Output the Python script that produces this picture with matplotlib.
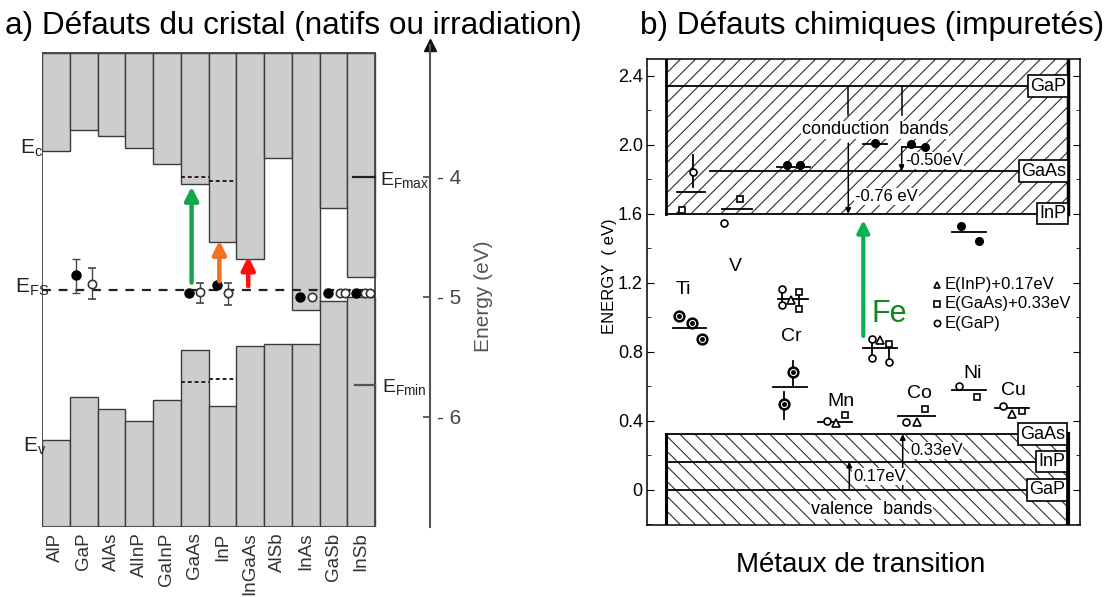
import matplotlib
matplotlib.use('Agg')
import matplotlib.pyplot as plt
from matplotlib.patches import Rectangle
from matplotlib.collections import LineCollection
import numpy as np

plt.rcParams['font.family'] = ['Liberation Sans', 'DejaVu Sans']
plt.rcParams['mathtext.fontset'] = 'custom'
plt.rcParams['mathtext.rm'] = 'Liberation Sans'

W, H = 1104, 597

# ---------------- panel a : band edges (eV) ----------------
compounds = ['AlP', 'GaP', 'AlAs', 'AlInP', 'GaInP', 'GaAs', 'InP', 'InGaAs',
             'AlSb', 'InAs', 'GaSb', 'InSb']
e_c = [-3.78, -3.61, -3.66, -3.76, -3.89, -4.06, -4.54, -4.68, -3.84, -5.11, -4.26, -4.83]
e_v = [-6.19, -5.83, -5.93, -6.03, -5.86, -5.44, -5.91, -5.41, -5.39, -5.39, -5.03, -5.00]
e_fs = -4.94
e_fmax = -4.0
e_fmin = -5.73

# measured pinning levels (x in column units)
pin_x = [1.22, 5.30, 6.31, 9.30, 10.32, 11.30]
pin_y = [-4.82, -4.97, -4.90, -5.00, -4.97, -4.97]
pin_lo = [-4.97, np.nan, np.nan, np.nan, np.nan, np.nan]
pin_hi = [-4.68, np.nan, np.nan, np.nan, np.nan, np.nan]
open_x = [1.81, 5.69, 6.71, 9.72, 10.74, 10.92, 11.64, 11.82]
open_y = [-4.89, -4.96, -4.97, -5.00, -4.97, -4.97, -4.97, -4.97]
open_lo = [-5.02, -5.05, -5.07, np.nan, np.nan, np.nan, np.nan, np.nan]
open_hi = [-4.76, -4.88, -4.88, np.nan, np.nan, np.nan, np.nan, np.nan]

# coloured arrows (x, start, end, colour)
arr_x = [5.39, 6.39, 7.43]
arr_y0 = [-4.88, -4.87, -4.91]
arr_y1 = [-4.08, -4.53, -4.66]
arr_col = ['#12a54c', '#f37021', '#ff1010']

# ---------------- panel b : transition metals ----------------
top_b, bot_b = 2.497, -0.203
cb_gap = [2.34, 1.848, 1.60]      # GaP, GaAs, InP conduction band edges
cb_names = ['GaP', 'GaAs', 'InP']
vb_lev = [0.324, 0.164, 0.0]      # GaAs, InP, GaP valence band edges
vb_names = ['GaAs', 'InP', 'GaP']

lev_x0 = [29.7, 74.7, 129.7, 216, 254.7, 304.7, 26.3, 131, 126, 171, 216.3, 250.7, 304.7, 348]
lev_x1 = [58, 104.7, 163, 239.7, 281.3, 339, 59, 161, 159.7, 204.7, 249.7, 288, 339, 382.3]
lev_y = [1.728, 1.628, 1.87, 2.005, 1.989, 1.497, 0.937, 1.107, 0.599, 0.396, 0.825, 0.43, 0.579, 0.477]

circ_x = [45.7, 77, 135.3, 135.3, 179.7, 224.7, 224.7, 242, 259, 312.3, 356.3]
circ_y = [1.844, 1.549, 1.163, 1.072, 0.40, 0.873, 0.763, 0.743, 0.392, 0.604, 0.489]
sq_x = [34.7, 93, 152.3, 152.3, 198, 242, 278, 330.3, 374.7]
sq_y = [1.622, 1.684, 1.145, 1.047, 0.435, 0.846, 0.469, 0.537, 0.458]
tri_x = [144, 189, 233, 269.7, 365.3]
tri_y = [1.10, 0.39, 0.866, 0.392, 0.44]
dot_x = [139.7, 153, 228, 263.7, 278, 313.7, 332.3]
dot_y = [1.881, 1.881, 2.012, 2.005, 1.99, 1.532, 1.445]
bull_x = [32.3, 44.7, 54.7, 145.7, 137.3]
bull_y = [1.008, 0.969, 0.875, 0.682, 0.497]
stem_x = [45.7, 135.3, 152.3, 145.7, 137.3, 224.7, 242]
stem_y0 = [1.757, 1.072, 1.047, 0.61, 0.41, 0.763, 0.743]
stem_y1 = [1.94, 1.163, 1.145, 0.75, 0.57, 0.873, 0.846]

metals = ['Ti', 'V', 'Cr', 'Mn', 'Co', 'Ni', 'Cu']
metal_x = [36, 88, 144.7, 193.7, 272, 325.7, 366.3]
metal_y = [1.163, 1.294, 0.888, 0.512, 0.56, 0.676, 0.575]


def px_axes(x0, y0, x1, y1):
    return fig.add_axes([x0 / W, 1 - y1 / H, (x1 - x0) / W, (y1 - y0) / H])


def hatch_band(ax, x0, x1, y0, y1, rising, step=15, px_per_ev=172.6):
    # diagonal hatch at 45 deg on screen, x axis is in pixels here
    h = (y1 - y0) * px_per_ev
    segs = []
    for c in np.arange(x0 - h, x1 + step, step):
        if rising:
            segs.append([(c, y0), (c + h, y1)])
        else:
            segs.append([(c, y1), (c + h, y0)])
    clip = Rectangle((x0, y0), x1 - x0, y1 - y0, transform=ax.transData)
    lc = LineCollection(segs, colors='#222222', linewidths=0.75, zorder=1)
    ax.add_collection(lc)
    lc.set_clip_path(clip)


fig = plt.figure(figsize=(W / 100, H / 100), dpi=100)

# ======================= panel a =======================
ax1 = px_axes(42, 45, 500, 527)
ax1.set_xlim(0, 16.5)
ax1.set_ylim(-6.917, -2.9)
frame_top = -2.967
xs = np.arange(len(compounds))
ax1.bar(xs, frame_top - np.array(e_c), bottom=e_c, width=1, align='edge',
        color='#cdcdcd', edgecolor='#3c3c3c', lw=1)
ax1.bar(xs, np.array(e_v) + 6.917, bottom=-6.917, width=1, align='edge',
        color='#cdcdcd', edgecolor='#3c3c3c', lw=1)
ax1.add_patch(Rectangle((0, -6.917), 12, frame_top + 6.917, fill=False,
                        ec='#444444', lw=1.3, zorder=3))

ax1.plot([0, 12], [e_fs, e_fs], color='#222222', lw=1.6, ls=(0, (4, 3.5)), zorder=4)
ax1.plot([5, 6], [-4.003, -4.003], color='#222222', lw=1.4, ls=(0, (2, 1.5)), zorder=4)
ax1.plot([6, 7], [-4.036, -4.036], color='#222222', lw=1.4, ls=(0, (2, 1.5)), zorder=4)
ax1.plot([5, 6], [-5.706, -5.706], color='#222222', lw=1.4, ls=(0, (2, 1.5)), zorder=4)
ax1.plot([6, 7], [-5.686, -5.686], color='#222222', lw=1.4, ls=(0, (2, 1.5)), zorder=4)
ax1.plot([11.2, 12], [e_fmax, e_fmax], color='#222222', lw=1.6, zorder=4)
ax1.plot([11.28, 12], [e_fmin, e_fmin], color='#555555', lw=1.6, zorder=4)

ax1.errorbar(pin_x, pin_y, yerr=[np.array(pin_y) - np.array(pin_lo), np.array(pin_hi) - np.array(pin_y)],
             fmt='o', ms=6.5, color='black', ecolor='#444444', elinewidth=1, capsize=3, zorder=5)
ax1.errorbar(open_x, open_y, yerr=[np.array(open_y) - np.array(open_lo), np.array(open_hi) - np.array(open_y)],
             fmt='o', ms=6, mfc='white', mec='#333333', mew=1.2, ecolor='#444444',
             elinewidth=1, capsize=3, zorder=5)

for x, y0, y1, c in zip(arr_x, arr_y0, arr_y1, arr_col):
    ax1.annotate('', xy=(x, y1), xytext=(x, y0),
                 arrowprops=dict(arrowstyle='-|>', color=c, lw=3.2, mutation_scale=20,
                                 shrinkA=0, shrinkB=0), zorder=6)

lab_kw = dict(fontsize=15, color='#222222', va='center')
ax1.text(-0.79, -3.76, r'E$_{\mathrm{c}}$', ha='left', **lab_kw)
ax1.text(-0.97, -4.92, r'E$_{\mathrm{FS}}$', ha='left', **lab_kw)
ax1.text(-0.69, -6.24, r'E$_{\mathrm{v}}$', ha='left', **lab_kw)
ax1.text(12.18, -4.03, r'E$_{\mathrm{Fmax}}$', ha='left', fontsize=14, color='#222222', va='center')
ax1.text(12.25, -5.76, r'E$_{\mathrm{Fmin}}$', ha='left', fontsize=14, color='#222222', va='center')

# energy axis
for s in ['left', 'top', 'bottom']:
    ax1.spines[s].set_visible(False)
ax1.spines['right'].set_position(('data', 13.98))
ax1.spines['right'].set_bounds(-6.917, -2.9)
ax1.spines['right'].set_color('#555555')
ax1.spines['right'].set_linewidth(1.5)
ax1.yaxis.tick_right()
ax1.set_yticks([-4, -5, -6])
ax1.set_yticklabels(['- 4', '- 5', '- 6'])
ax1.tick_params(axis='y', direction='in', length=5, width=1.2, colors='#444444',
                labelsize=15, pad=5)
ax1.plot([13.98], [-2.9], marker='^', ms=8, color='#111111', clip_on=False)
ax1.text(15.92, -4.99, 'Energy (eV)', rotation=90, fontsize=15, color='#555555',
         ha='center', va='center')
ax1.set_xticks(xs + 0.5)
ax1.set_xticklabels(compounds, rotation=90, fontsize=13.5, color='#333333')
ax1.tick_params(axis='x', length=0, pad=4)

fig.text(5 / W, 1 - 26 / H, 'a) Défauts du cristal (natifs ou irradiation)',
         fontsize=22.7, ha='left', va='center')

# ======================= panel b =======================
ax2 = px_axes(647, 59, 1080, 525)
ax2.set_xlim(0, 433)
ax2.set_ylim(bot_b, top_b)
xl, xr = 18.7, 421

hatch_band(ax2, xl, xr, cb_gap[2], top_b, rising=True)
hatch_band(ax2, xl, xr, bot_b, vb_lev[0], rising=False)
ax2.plot([xl, xl], [cb_gap[2], top_b], color='black', lw=2, zorder=3)
ax2.plot([xl, xl], [bot_b, vb_lev[0]], color='black', lw=2.2, zorder=3)
ax2.plot([xr, xr], [cb_gap[2], top_b], color='black', lw=2.5, zorder=3)
ax2.plot([xr, xr], [bot_b, vb_lev[0]], color='black', lw=3, zorder=3)

cb_start = [xl, 63, xl]
box = dict(boxstyle='square,pad=0.12', fc='white', ec='black', lw=1.2)
for y, name, x0 in zip(cb_gap, cb_names, cb_start):
    ax2.plot([x0, xr], [y, y], color='black', lw=1.3, zorder=3)
    ax2.text(xr - 2, y, name, ha='right', va='center', fontsize=13, bbox=box, zorder=5)
for y, name in zip(vb_lev, vb_names):
    ax2.plot([xl, xr], [y, y], color='black', lw=1.3, zorder=3)
    ax2.text(xr - 3, y, name, ha='right', va='center', fontsize=13, bbox=box, zorder=5)

# shifts between the band edges
ax2.plot([201.3, 201.3], [cb_gap[0], 2.17], color='black', lw=1.1, zorder=3)
ax2.annotate('', xy=(201.3, cb_gap[2]), xytext=(201.3, 2.01),
             arrowprops=dict(arrowstyle='-|>', color='black', lw=1.1, mutation_scale=8,
                             shrinkA=0, shrinkB=0))
ax2.plot([254.7, 254.7], [cb_gap[0], 2.17], color='black', lw=1.1, zorder=3)
ax2.annotate('', xy=(254.7, cb_gap[1]), xytext=(254.7, 1.989),
             arrowprops=dict(arrowstyle='-|>', color='black', lw=1.1, mutation_scale=8,
                             shrinkA=0, shrinkB=0))
ax2.annotate('', xy=(202.3, vb_lev[1]), xytext=(202.3, vb_lev[2]),
             arrowprops=dict(arrowstyle='-|>', color='black', lw=1.1, mutation_scale=8,
                             shrinkA=0, shrinkB=0))
ax2.annotate('', xy=(255.7, vb_lev[0]), xytext=(255.7, vb_lev[2]),
             arrowprops=dict(arrowstyle='-|>', color='black', lw=1.1, mutation_scale=8,
                             shrinkA=0, shrinkB=0))

txt = dict(fontsize=12, color='black', va='center', zorder=5)
bg = dict(boxstyle='square,pad=0.05', fc='white', ec='none')
ax2.text(208, 1.70, '-0.76 eV', ha='left', bbox=bg, **txt)
ax2.text(258, 1.91, '-0.50eV', ha='left', bbox=bg, **txt)
ax2.text(206, 0.077, '0.17eV', ha='left', bbox=bg, **txt)
ax2.text(263, 0.23, '0.33eV', ha='left', bbox=bg, **txt)
ax2.text(228, 2.086, 'conduction  bands', ha='center', fontsize=13, va='center',
         bbox=bg, zorder=5)
ax2.text(224.7, -0.115, 'valence  bands', ha='center', fontsize=13, va='center',
         bbox=bg, zorder=5)

# impurity levels
for x0, x1, y in zip(lev_x0, lev_x1, lev_y):
    ax2.plot([x0, x1], [y, y], color='black', lw=1.3, zorder=4)
for x, y0, y1 in zip(stem_x, stem_y0, stem_y1):
    ax2.plot([x, x], [y0, y1], color='black', lw=1.3, zorder=4)
mk = dict(ls='none', mfc='white', mec='black', mew=1.2, zorder=6)
ax2.plot(circ_x, circ_y, marker='o', ms=5, **mk)
ax2.plot(sq_x, sq_y, marker='s', ms=4.5, **mk)
ax2.plot(tri_x, tri_y, marker='^', ms=5.5, **mk)
ax2.plot(dot_x, dot_y, marker='o', ms=5.5, ls='none', color='black', zorder=6)
ax2.plot(bull_x, bull_y, marker='o', ms=7, ls='none', mfc='white', mec='black', mew=1.8, zorder=6)
ax2.plot(bull_x, bull_y, marker='o', ms=2.5, ls='none', color='black', zorder=7)
for m, x, y in zip(metals, metal_x, metal_y):
    ax2.text(x, y, m, ha='center', va='center', fontsize=14, zorder=5)

# key
ax2.plot([290.3], [1.19], marker='^', ms=5, **mk)
ax2.plot([290.3], [1.08], marker='s', ms=4.5, **mk)
ax2.plot([290.3], [0.966], marker='o', ms=4.5, **mk)
ax2.text(298, 1.19, 'E(InP)+0.17eV', ha='left', **txt)
ax2.text(298, 1.08, 'E(GaAs)+0.33eV', ha='left', **txt)
ax2.text(298, 0.966, 'E(GaP)', ha='left', **txt)

# Fe arrow
ax2.annotate('', xy=(216.3, 1.564), xytext=(216.3, 0.892),
             arrowprops=dict(arrowstyle='-|>', color='#0bb04f', lw=3, mutation_scale=18,
                             shrinkA=0, shrinkB=0), zorder=6)
ax2.text(242, 1.02, 'Fe', color='#11871f', fontsize=22, ha='center', va='center', zorder=6)

ax2.set_yticks(np.arange(0, 2.41, 0.4))
ax2.set_yticklabels(['0', '0.4', '0.8', '1.2', '1.6', '2.0', '2.4'])
ax2.set_yticks(np.arange(-0.2, 2.41, 0.2), minor=True)
ax2.set_xticks([])
ax2.tick_params(axis='y', which='both', direction='in', left=True, right=True,
                labelsize=13, pad=3)
ax2.tick_params(axis='y', which='major', length=5)
ax2.tick_params(axis='y', which='minor', length=3)
for s in ax2.spines.values():
    s.set_linewidth(1.1)
ax2.set_ylabel('ENERGY  ( eV)', fontsize=12)
ax2.yaxis.set_label_coords(-0.07, 0.534)

fig.text(640 / W, 1 - 26 / H, 'b) Défauts chimiques (impuretés)',
         fontsize=22.7, ha='left', va='center')
fig.text(861 / W, 1 - 565 / H, 'Métaux de transition', fontsize=20,
         ha='center', va='center')

fig.savefig('out.png', dpi=100)
